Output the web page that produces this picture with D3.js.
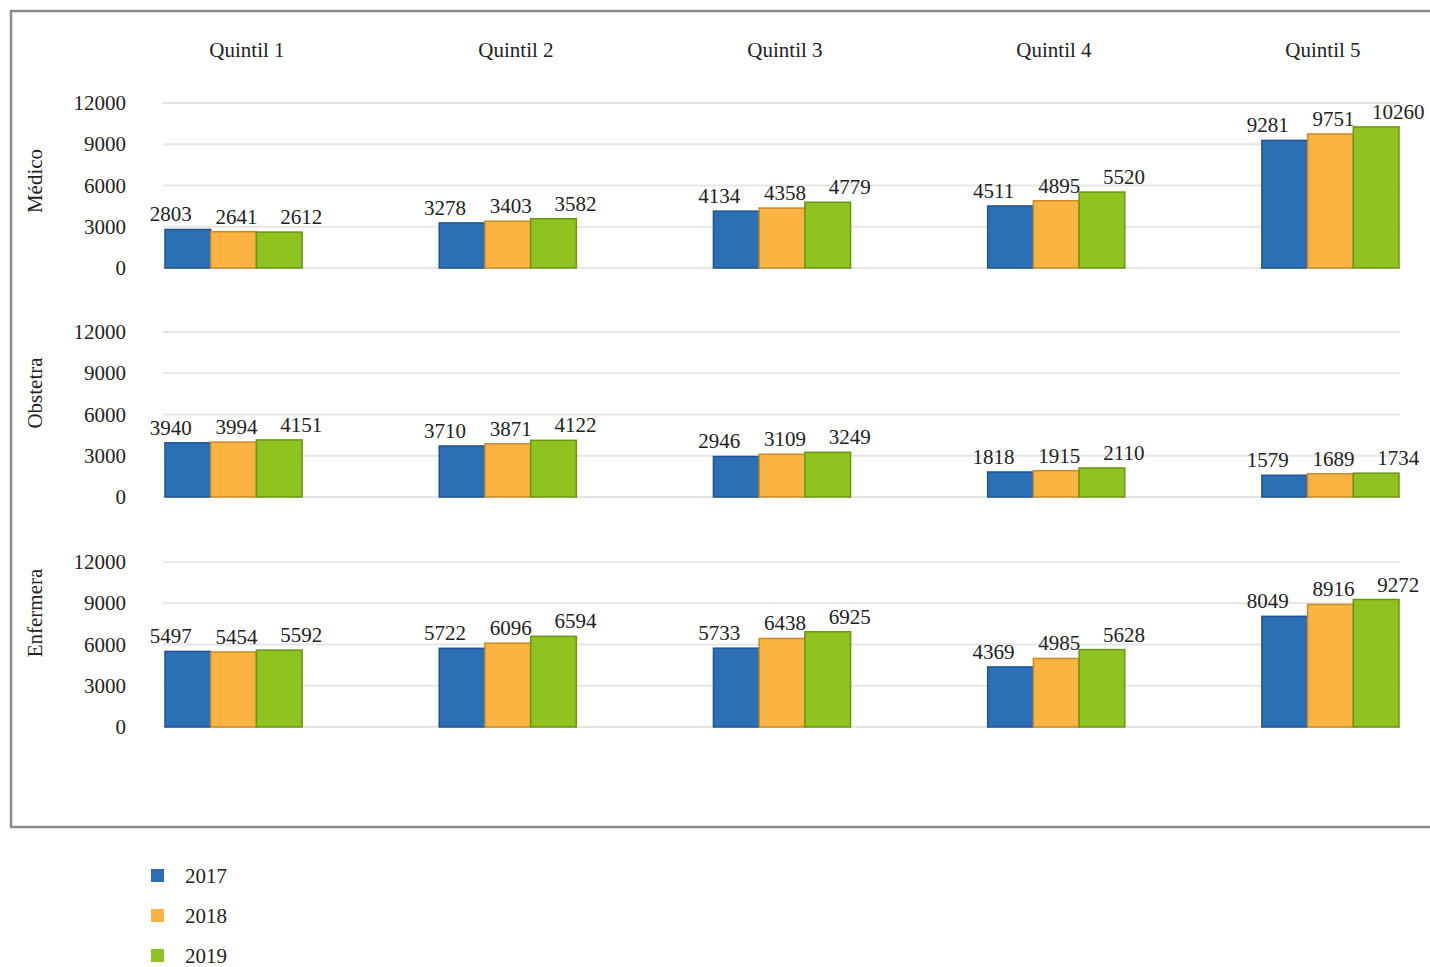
<!DOCTYPE html>
<html>
<head>
<meta charset="utf-8">
<script src="https://cdn.jsdelivr.net/npm/d3@7"></script>
<style>
  body { margin: 0; background: #fff; }
</style>
</head>
<body>
<script>
// data
const quintiles = ['Quintil 1', 'Quintil 2', 'Quintil 3', 'Quintil 4', 'Quintil 5'];
const years = ['2017', '2018', '2019'];
const professions = ['Médico', 'Obstetra', 'Enfermera'];
const yTicks = [0, 3000, 6000, 9000, 12000];

// values[profession][quintile] = [2017, 2018, 2019]
const medico = [[2803, 2641, 2612], [3278, 3403, 3582], [4134, 4358, 4779], [4511, 4895, 5520], [9281, 9751, 10260]];
const obstetra = [[3940, 3994, 4151], [3710, 3871, 4122], [2946, 3109, 3249], [1818, 1915, 2110], [1579, 1689, 1734]];
const enfermera = [[5497, 5454, 5592], [5722, 6096, 6594], [5733, 6438, 6925], [4369, 4985, 5628], [8049, 8916, 9272]];
const allValues = [medico, obstetra, enfermera];

const colors = ['#2b6fb4', '#fbb441', '#8fc31f'];
const strokes = ['#1f5490', '#c98a2a', '#6a9416'];

const width = 1430, height = 967;
const serif = "'Liberation Serif', 'Times New Roman', Times, 'DejaVu Serif', serif";

const svg = d3.select('body')
	.append('svg')
	.attr('width', width)
	.attr('height', height)
	.attr('font-family', serif)
	.style('font-family', serif);

// frame
svg.append('rect')
	.attr('x', 11).attr('y', 11)
	.attr('width', 1440).attr('height', 816)
	.attr('fill', 'none')
	.attr('stroke', '#8a8a8a')
	.attr('stroke-width', 2.5);

const x0 = d3.scaleBand()
	.domain(quintiles)
	.range([165, 1399])
	.paddingInner(0.5)
	.paddingOuter(0);

const x1 = d3.scaleBand()
	.domain(years)
	.range([0, x0.bandwidth()]);

// column titles sit slightly off the bar groups in the original
const xTitle = d3.scalePoint()
	.domain(quintiles)
	.range([247, 1323]);

svg.selectAll('.qtitle')
	.data(quintiles)
	.enter()
	.append('text')
	.attr('class', 'qtitle')
	.attr('x', d => xTitle(d))
	.attr('y', 57)
	.attr('text-anchor', 'middle')
	.attr('fill', '#222')
	.style('font-size', '21px')
	.text(d => d);

// row panels: top and bottom of the value range
const rowTops = [103, 332, 562];
const rowBottoms = [268, 497, 727];
const rowLabelY = [181, 393, 613];
const labelDx = [-17, 3, 22];

professions.forEach((prof, r) => {
	const y = d3.scaleLinear()
		.domain([0, 12000])
		.range([rowBottoms[r], rowTops[r]]);

	const g = svg.append('g');

	// gridlines
	g.selectAll('.grid')
		.data(yTicks)
		.enter()
		.append('line')
		.attr('x1', 163)
		.attr('x2', 1400)
		.attr('y1', d => y(d))
		.attr('y2', d => y(d))
		.attr('stroke', '#e6e6e6')
		.attr('stroke-width', 2);

	// tick labels
	g.selectAll('.tick')
		.data(yTicks)
		.enter()
		.append('text')
		.attr('x', 126)
		.attr('y', d => y(d) + 7)
		.attr('text-anchor', 'end')
		.attr('fill', '#222')
		.style('font-size', '21px')
		.text(d => d);

	// row label
	g.append('text')
		.attr('transform', `translate(42,${rowLabelY[r]}) rotate(-90)`)
		.attr('text-anchor', 'middle')
		.attr('fill', '#222')
		.style('font-size', '21px')
		.text(prof);

	const rows = allValues[r];

	quintiles.forEach((q, qi) => {
		const gq = g.append('g')
			.attr('transform', `translate(${x0(q)},0)`);

		gq.selectAll('rect')
			.data(rows[qi])
			.enter()
			.append('rect')
			.attr('x', (d, i) => x1(years[i]))
			.attr('y', d => y(d))
			.attr('width', x1.bandwidth())
			.attr('height', d => y(0) - y(d))
			.attr('fill', (d, i) => colors[i])
			.attr('stroke', (d, i) => strokes[i])
			.attr('stroke-width', 1.5);

		gq.selectAll('.lbl')
			.data(rows[qi])
			.enter()
			.append('text')
			.attr('x', (d, i) => x1(years[i]) + x1.bandwidth() / 2 + labelDx[i])
			.attr('y', d => y(d) - 8)
			.attr('text-anchor', 'middle')
			.attr('fill', '#222')
			.style('font-size', '21px')
			.text(d => d);
	});
});

// legend
const legend = svg.selectAll('.legend')
	.data(years)
	.enter()
	.append('g')
	.attr('transform', (d, i) => `translate(151,${869 + i * 40})`);

legend.append('rect')
	.attr('width', 13)
	.attr('height', 13)
	.attr('fill', (d, i) => colors[i]);

legend.append('text')
	.attr('x', 34)
	.attr('y', 14)
	.attr('fill', '#222')
	.style('font-size', '21px')
	.text(d => d);
</script>
</body>
</html>
